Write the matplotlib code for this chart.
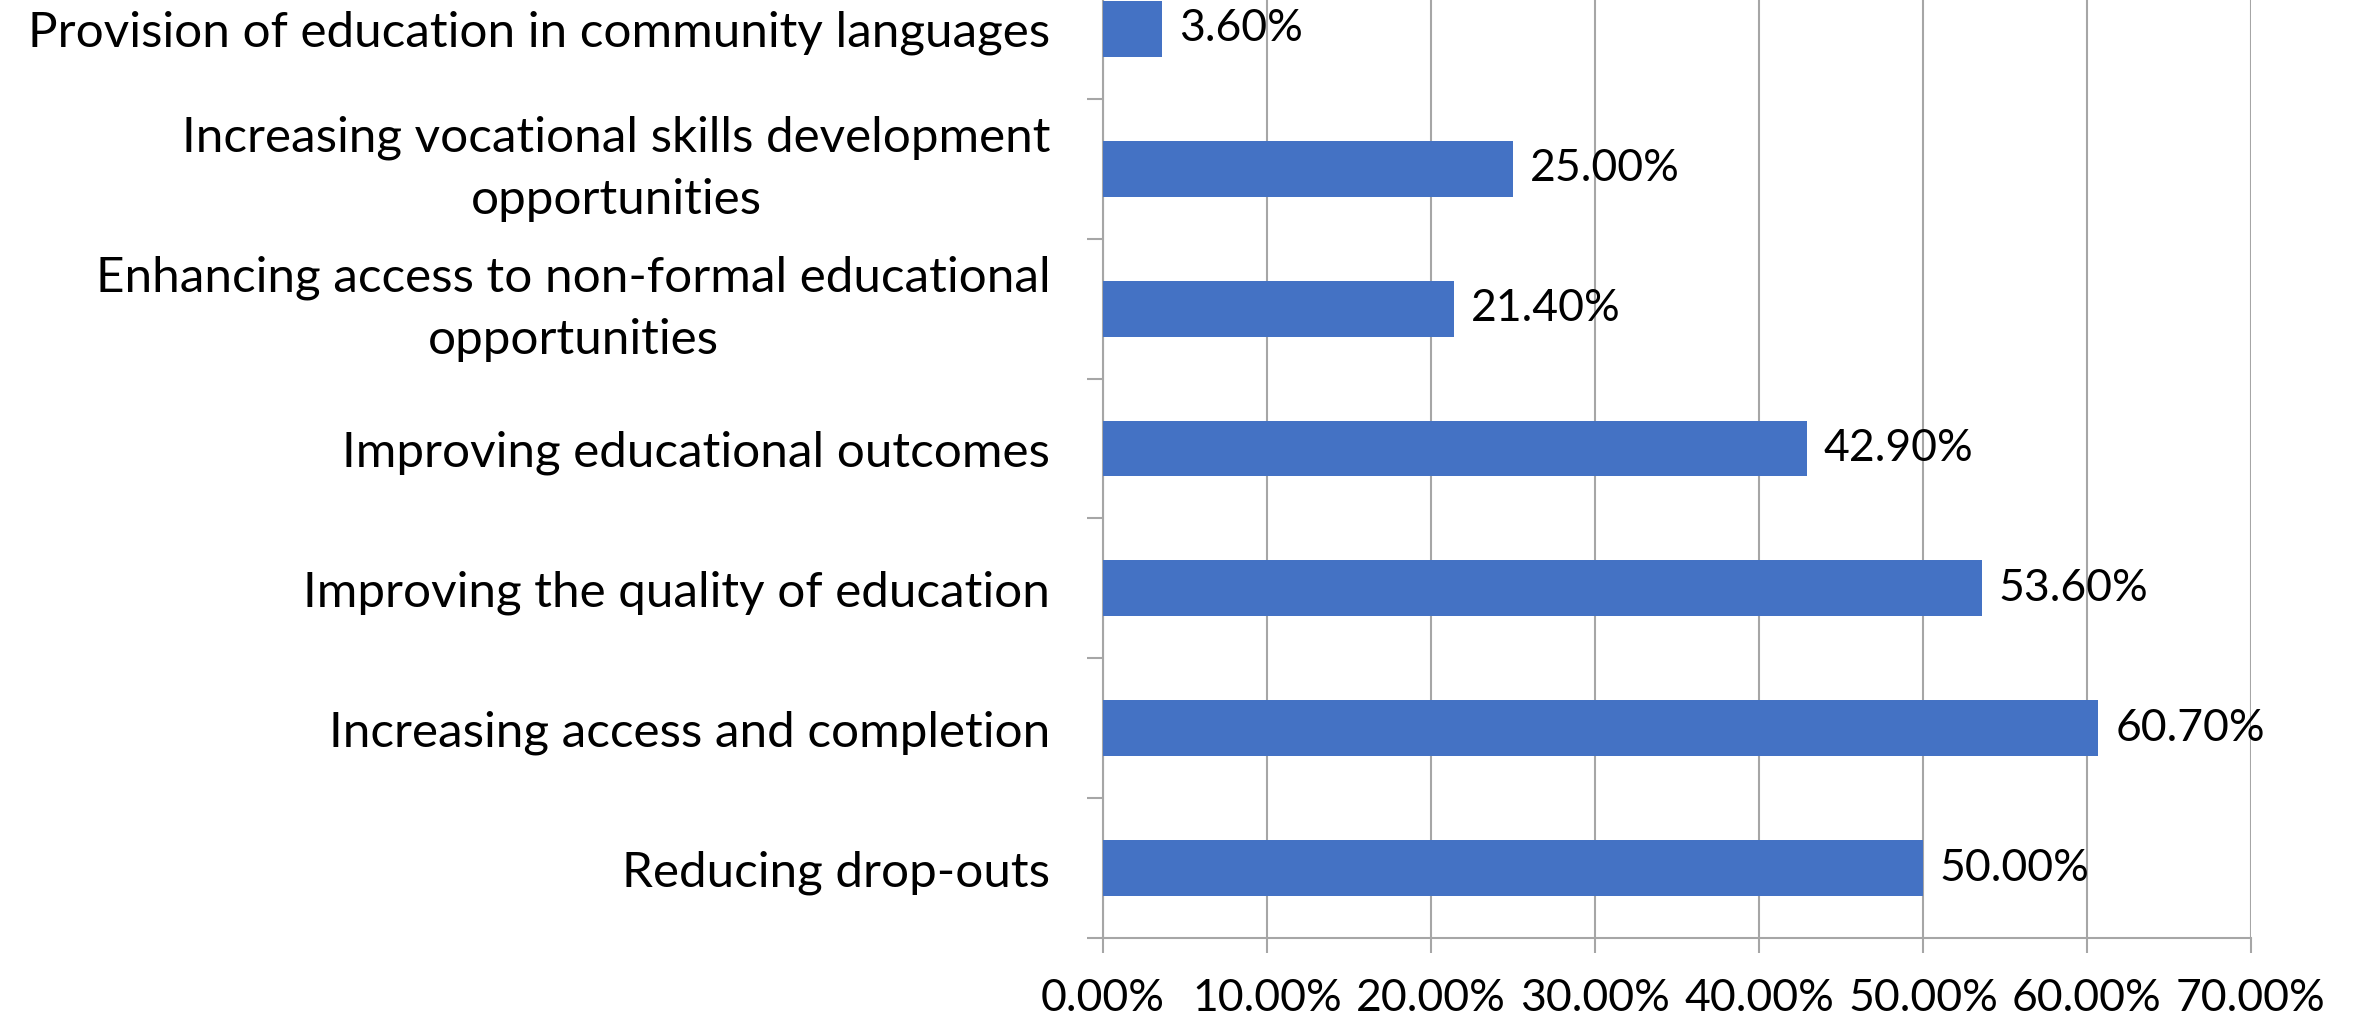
import numpy as np
import matplotlib
matplotlib.use("Agg")
import matplotlib.pyplot as plt
from matplotlib.ticker import FuncFormatter

plt.rcParams["font.family"] = ["Lato", "DejaVu Sans"]

# categories top to bottom, values in percent
categories = [
    "Provision of education in community languages",
    "Increasing vocational skills development\nopportunities",
    "Enhancing access to non-formal educational\nopportunities",
    "Improving educational outcomes",
    "Improving the quality of education",
    "Increasing access and completion",
    "Reducing drop-outs",
]
values = [3.6, 25.0, 21.4, 42.9, 53.6, 60.7, 50.0]
x_ticks = [0, 10, 20, 30, 40, 50, 60, 70]

bar_color = "#4472C4"
grid_color = "#A6A6A6"
fs = 32
fs_cat = 35.6

fig = plt.figure(figsize=(23.53, 10.18), dpi=100)
ax = fig.add_axes([1103 / 2353, 80 / 1018, 1148 / 2353, 979 / 1018])

pos = np.arange(len(categories))
ax.barh(pos, values, height=0.4, color=bar_color, zorder=3)

for p, v in zip(pos, values):
    ax.annotate(f"{v:.2f}%", (v, p), xytext=(12, 0), textcoords="offset points",
                va="center", ha="left", fontsize=fs, color="black")

ax.set_xlim(0, 70)
ax.set_ylim(len(categories) - 0.5, -0.5)
ax.set_xticks(x_ticks)
ax.xaxis.set_major_formatter(FuncFormatter(lambda x, _: f"{x:.2f}%"))
ax.grid(axis="x", color=grid_color, linewidth=1.5, zorder=0)

ax.set_yticks(pos)
ax.set_yticklabels(categories, fontsize=fs_cat, multialignment="center", linespacing=1.5)
# two-line labels sit centred on the bar in the original
for lbl in ax.get_yticklabels():
    if "\n" in lbl.get_text():
        lbl.set_va("center")
ax.set_yticks(np.arange(len(categories) + 1) - 0.5, minor=True)
ax.tick_params(axis="y", which="major", length=0, pad=38)
ax.tick_params(axis="y", which="minor", length=11.5, width=1.5, color=grid_color, direction="out")
ax.tick_params(axis="x", length=11, width=1.5, color=grid_color, labelsize=fs, pad=18)

for s in ["top", "right"]:
    ax.spines[s].set_visible(False)
for s in ["left", "bottom"]:
    ax.spines[s].set_color(grid_color)
    ax.spines[s].set_linewidth(1.5)

fig.savefig("out.png", dpi=100)
